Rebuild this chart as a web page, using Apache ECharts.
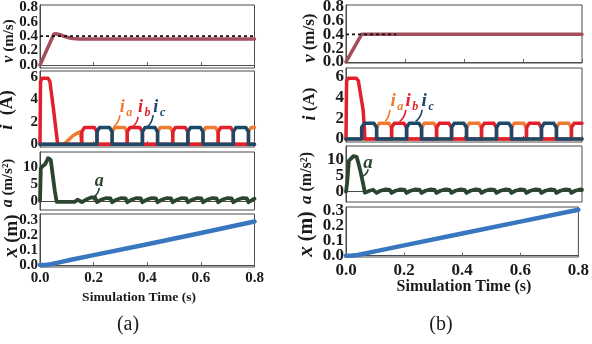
<!DOCTYPE html>
<html>
<head>
<meta charset="utf-8">
<script src="https://cdn.jsdelivr.net/npm/echarts@6/dist/echarts.min.js"></script>
<style>
  html, body { margin: 0; padding: 0; background: #ffffff; }
  #c { width: 592px; height: 344px; }
</style>
</head>
<body>
<div id="c"></div>
<script>
// ---------- (a) speed-loop run: [time (s), value] ----------
const velA = [[0,0],[0.005,0],[0.052,0.43],[0.062,0.432],[0.075,0.42],[0.09,0.398],[0.105,0.38],[0.12,0.368],[0.14,0.362],[0.8,0.362]];
const refA = [[0,0.4],[0.8,0.4]];
const iaA = [[0,0],[0.09,0],[0.105,0.35],[0.12,0.7],[0.135,0.95],[0.15,1.1],[0.156,1.15],[0.156,0],
  [0.269,0],[0.269,1.1],[0.279,1.5],[0.3155,1.5],[0.3255,1.1],[0.3255,0],
  [0.4385,0],[0.4385,1.1],[0.4485,1.5],[0.485,1.5],[0.495,1.1],[0.495,0],
  [0.608,0],[0.608,1.1],[0.618,1.5],[0.6545,1.5],[0.6645,1.1],[0.6645,0],
  [0.7775,0],[0.7775,1.1],[0.7875,1.5],[0.8,1.5]];
const ibA = [[0,0],[0.002,5.6],[0.008,5.9],[0.03,5.9],[0.037,5.6],[0.05,3.2],[0.062,0.8],[0.066,0],
  [0.156,0],[0.156,1.1],[0.166,1.5],[0.2025,1.5],[0.2125,1.1],[0.2125,0],
  [0.3255,0],[0.3255,1.1],[0.3355,1.5],[0.372,1.5],[0.382,1.1],[0.382,0],
  [0.495,0],[0.495,1.1],[0.505,1.5],[0.5415,1.5],[0.5515,1.1],[0.5515,0],
  [0.6645,0],[0.6645,1.1],[0.6745,1.5],[0.711,1.5],[0.721,1.1],[0.721,0],[0.8,0]];
const icA = [[0,0],[0.2125,0],[0.2125,1.1],[0.2225,1.5],[0.259,1.5],[0.269,1.1],[0.269,0],
  [0.382,0],[0.382,1.1],[0.392,1.5],[0.4285,1.5],[0.4385,1.1],[0.4385,0],
  [0.5515,0],[0.5515,1.1],[0.5615,1.5],[0.598,1.5],[0.608,1.1],[0.608,0],
  [0.721,0],[0.721,1.1],[0.731,1.5],[0.7675,1.5],[0.7775,1.1],[0.7775,0],[0.8,0]];
const accA = [[0,0],[0.003,9.5],[0.01,10.2],[0.018,10.6],[0.025,11.6],[0.03,12.5],[0.035,12.8],[0.04,12],[0.045,9],[0.055,3],[0.062,-0.3],
  [0.13,-0.3],[0.14,0.3],[0.148,0],[0.156,-0.4],
  [0.171,0.3],[0.191,1.0],[0.206,0.9],[0.2125,-0.4],
  [0.2275,0.3],[0.2475,0.8],[0.2625,0.7],[0.269,-0.4],
  [0.284,0.3],[0.304,0.8],[0.319,0.7],[0.3255,-0.4],
  [0.3405,0.3],[0.3605,0.8],[0.3755,0.7],[0.382,-0.4],
  [0.397,0.3],[0.417,0.8],[0.432,0.7],[0.4385,-0.4],
  [0.4535,0.3],[0.4735,0.8],[0.4885,0.7],[0.495,-0.4],
  [0.51,0.3],[0.53,0.8],[0.545,0.7],[0.5515,-0.4],
  [0.5665,0.3],[0.5865,0.8],[0.6015,0.7],[0.608,-0.4],
  [0.623,0.3],[0.643,0.8],[0.658,0.7],[0.6645,-0.4],
  [0.6795,0.3],[0.6995,0.8],[0.7145,0.7],[0.721,-0.4],
  [0.736,0.3],[0.756,0.8],[0.771,0.7],[0.7775,-0.4],
  [0.7925,0.3],[0.8,0.6]];
const posA = [[0,0],[0.02,0.001],[0.04,0.005],[0.055,0.011],[0.08,0.021],[0.12,0.037],[0.2,0.066],[0.4,0.139],[0.6,0.213],[0.8,0.29]];

// ---------- (b) run ----------
const velB = [[0,0],[0.003,0],[0.053,0.4],[0.8,0.4]];
const refB = [[0,0.4],[0.17,0.4]];
const iaB = [[0,0],[0.1038,0],[0.1038,1.1],[0.1128,1.5],[0.1456,1.5],[0.1546,1.1],[0.1546,0],
  [0.2562,0],[0.2562,1.1],[0.2652,1.5],[0.298,1.5],[0.307,1.1],[0.307,0],
  [0.4086,0],[0.4086,1.1],[0.4176,1.5],[0.4504,1.5],[0.4594,1.1],[0.4594,0],
  [0.561,0],[0.561,1.1],[0.57,1.5],[0.6028,1.5],[0.6118,1.1],[0.6118,0],
  [0.7134,0],[0.7134,1.1],[0.7224,1.5],[0.7552,1.5],[0.7642,1.1],[0.7642,0],[0.8,0]];
const ibB = [[0,0],[0.002,5.6],[0.008,5.85],[0.035,5.85],[0.042,5.6],[0.058,2.8],[0.062,1.2],[0.064,0],
  [0.1546,0],[0.1546,1.1],[0.1636,1.5],[0.1964,1.5],[0.2054,1.1],[0.2054,0],
  [0.307,0],[0.307,1.1],[0.316,1.5],[0.3488,1.5],[0.3578,1.1],[0.3578,0],
  [0.4594,0],[0.4594,1.1],[0.4684,1.5],[0.5012,1.5],[0.5102,1.1],[0.5102,0],
  [0.6118,0],[0.6118,1.1],[0.6208,1.5],[0.6536,1.5],[0.6626,1.1],[0.6626,0],
  [0.7642,0],[0.7642,1.1],[0.7732,1.5],[0.8,1.5]];
const icB = [[0,0],[0.053,0],[0.053,1.1],[0.062,1.5],[0.0948,1.5],[0.1038,1.1],[0.1038,0],
  [0.2054,0],[0.2054,1.1],[0.2144,1.5],[0.2472,1.5],[0.2562,1.1],[0.2562,0],
  [0.3578,0],[0.3578,1.1],[0.3668,1.5],[0.3996,1.5],[0.4086,1.1],[0.4086,0],
  [0.5102,0],[0.5102,1.1],[0.5192,1.5],[0.552,1.5],[0.561,1.1],[0.561,0],
  [0.6626,0],[0.6626,1.1],[0.6716,1.5],[0.7044,1.5],[0.7134,1.1],[0.7134,0],[0.8,0]];
const accB = [[0,0],[0.004,3],[0.01,9.8],[0.018,10.5],[0.025,11.2],[0.03,11.6],[0.036,11.0],[0.042,9],[0.05,6],[0.058,2.5],[0.064,-0.3],
  [0.08,0.3],[0.092,0.6],[0.1038,-0.4],
  [0.1168,0.3],[0.1348,0.7],[0.1478,0.6],[0.1546,-0.4],
  [0.1676,0.3],[0.1856,0.7],[0.1986,0.6],[0.2054,-0.4],
  [0.2184,0.3],[0.2364,0.7],[0.2494,0.6],[0.2562,-0.4],
  [0.2692,0.3],[0.2872,0.7],[0.3002,0.6],[0.307,-0.4],
  [0.32,0.3],[0.338,0.7],[0.351,0.6],[0.3578,-0.4],
  [0.3708,0.3],[0.3888,0.7],[0.4018,0.6],[0.4086,-0.4],
  [0.4216,0.3],[0.4396,0.7],[0.4526,0.6],[0.4594,-0.4],
  [0.4724,0.3],[0.4904,0.7],[0.5034,0.6],[0.5102,-0.4],
  [0.5232,0.3],[0.5412,0.7],[0.5542,0.6],[0.561,-0.4],
  [0.574,0.3],[0.592,0.7],[0.605,0.6],[0.6118,-0.4],
  [0.6248,0.3],[0.6428,0.7],[0.6558,0.6],[0.6626,-0.4],
  [0.6756,0.3],[0.6936,0.7],[0.7066,0.6],[0.7134,-0.4],
  [0.7264,0.3],[0.7444,0.7],[0.7574,0.6],[0.7642,-0.4],
  [0.7772,0.3],[0.7952,0.7],[0.8,0.6]];
const posB = [[0,0],[0.02,0.001],[0.04,0.005],[0.053,0.01],[0.1,0.029],[0.2,0.069],[0.4,0.149],[0.6,0.229],[0.8,0.309]];

// tick labels
const timeTicks = [0, 0.2, 0.4, 0.6, 0.8];
const velTicks = [0, 0.2, 0.4, 0.6, 0.8];
const curTicks = [0, 2, 4, 6];
const accTicks = [0, 5, 10];
const posTicks = [0, 0.1, 0.2, 0.3];

const SERIF = "'Liberation Serif', 'Times New Roman', serif";
const INK = '#1a1a1a';
const C = { vel: '#a34f5b', ref: '#111111', ia: '#ee7b30', ib: '#e2202d', ic: '#1d4868', acc: '#2a4630', pos: '#3877c0' };

// panel frames: [left, top, width, height]
const frames = [
  [40, 5, 214.5, 63], [40, 71, 214.5, 76], [40, 152, 214.5, 58], [40, 214, 214.5, 53],
  [346, 5, 236, 58], [346, 68, 236, 74], [346, 146, 236, 56], [346, 207, 236, 50]
];
const yRanges = [
  [-0.042, 0.832], [-0.25, 6.55], [-2.7, 14.3], [-0.013, 0.34],
  [-0.015, 0.825], [-0.3, 6.85], [-3.25, 14.4], [-0.009, 0.327]
];
const yTicks = [velTicks, curTicks, accTicks, posTicks, velTicks, curTicks, accTicks, posTicks];
const yFmt = [1, 0, 0, 1, 1, 0, 0, 1];
const labelSize = [15, 15, 15, 15, 17, 17, 17, 17];

const grid = frames.map(f => ({ left: f[0], top: f[1], width: f[2], height: f[3], show: true, borderColor: '#4a4a4a', borderWidth: 1, backgroundColor: 'transparent' }));

const xAxis = frames.map((f, k) => ({
  type: 'value', gridIndex: k, min: 0, max: 0.8, interval: 0.2,
  axisLine: { show: true, lineStyle: { color: '#4a4a4a', width: 1 } },
  axisTick: { show: true, inside: true, length: 3, lineStyle: { color: '#666' } },
  splitLine: { show: false },
  axisLabel: {
    show: k === 3 || k === 7, margin: k === 3 ? 4 : 5,
    showMinLabel: true, showMaxLabel: true,
    fontFamily: SERIF, fontWeight: 'bold', fontSize: labelSize[k], color: INK,
    formatter: v => v.toFixed(1)
  }
}));

// y tick labels are set as text further below, at the pixel of each tick value
const yAxis = frames.map((f, k) => ({
  type: 'value', gridIndex: k, min: yRanges[k][0], max: yRanges[k][1],
  axisLine: { show: true, lineStyle: { color: '#4a4a4a', width: 1 } },
  axisTick: { show: false },
  splitLine: { show: false },
  axisLabel: { show: false }
}));

function line(data, k, color, width, z, dashed) {
  return {
    type: 'line', data, xAxisIndex: k, yAxisIndex: k, showSymbol: false, symbol: 'none',
    silent: true, z: z, clip: true,
    lineStyle: { color, width, type: dashed ? [3, 3] : 'solid', cap: dashed ? 'butt' : 'round', join: 'round' }
  };
}

const series = [
  line(velA, 0, C.vel, 3.5, 2), line(refA, 0, C.ref, 1.6, 3, true),
  line(iaA, 1, C.ia, 3.5, 2), line(ibA, 1, C.ib, 3.5, 3), line(icA, 1, C.ic, 3.5, 4),
  line(accA, 2, C.acc, 3.8, 2),
  line(posA, 3, C.pos, 4.5, 2),
  line(velB, 4, C.vel, 3.5, 2), line(refB, 4, C.ref, 1.6, 3, true),
  line(iaB, 5, C.ia, 3.5, 2), line(ibB, 5, C.ib, 3.5, 3), line(icB, 5, C.ic, 3.5, 4),
  line(accB, 6, C.acc, 3.8, 2),
  line(posB, 7, C.pos, 4.5, 2)
];

const chart = echarts.init(document.getElementById('c'), null, { renderer: 'canvas', width: 592, height: 344 });
chart.setOption({ animation: false, backgroundColor: '#ffffff', grid, xAxis, yAxis, series, graphic: [] });

// ---------- text: tick labels, axis names, titles, panel tags, curve annotations ----------
function txt(x, y, text, size, opts) {
  opts = opts || {};
  return {
    type: 'text', x, y, rotation: opts.rot || 0, silent: true, z: 50,
    style: {
      text, rich: opts.rich, fill: opts.fill || INK,
      fontFamily: SERIF, fontSize: size, fontWeight: opts.weight || 'bold', fontStyle: opts.style || 'normal',
      align: opts.align || 'center', verticalAlign: opts.valign || 'middle',
      textAlign: opts.align || 'center', textVerticalAlign: opts.valign || 'middle'
    }
  };
}
function yName(x, y, v, unit, size) {
  return txt(x, y, '{v|' + v + '}' + unit, size, {
    rot: Math.PI / 2,
    rich: { v: { fontFamily: SERIF, fontSize: size + 1, fontWeight: 'bold', fontStyle: 'italic', fill: INK } }
  });
}

const g = [];

// y tick labels
frames.forEach((f, k) => {
  yTicks[k].forEach(v => {
    const p = chart.convertToPixel({ gridIndex: k }, [0, v]);
    const s = yFmt[k] ? v.toFixed(1) : String(v);
    g.push(txt(f[0] - 2, p[1], s, labelSize[k], { align: 'right' }));
  });
});

g.push(yName(9, 41, 'v', ' (m/s)', 15));
g.push(yName(7, 110, 'i', '  (A)', 18));
g.push(yName(8, 183, 'a', ' (m/s²)', 15));
g.push(yName(12, 236, 'x', ' (m)', 19));
g.push(yName(310, 38, 'v', ' (m/s)', 17));
g.push(yName(310, 104, 'i', ' (A)', 17));
g.push(yName(307, 178, 'a', ' (m/s²)', 16));
g.push(yName(307, 234, 'x', ' (m)', 20));

g.push(txt(139, 298, 'Simulation Time (s)', 13.5));
g.push(txt(464, 287, 'Simulation Time (s)', 16));
g.push(txt(128, 325, '(a)', 20, { weight: 'normal' }));
g.push(txt(441, 325, '(b)', 20, { weight: 'normal' }));

// curve tags anchored in data space: [gridIndex, label point, pointer start, pointer end, main, sub, color]
const tags = [
  [1, [0.318, 3.3], [0.298, 2.6], [0.276, 1.6], 'i', 'a', C.ia],
  [1, [0.386, 3.3], [0.366, 2.45], [0.346, 1.6], 'i', 'b', C.ib],
  [1, [0.443, 3.3], [0.422, 2.6], [0.402, 1.6], 'i', 'c', C.ic],
  [2, [0.232, 5.8], [0.221, 3.75], [0.2, 1.1], 'a', '', C.acc],
  [5, [0.17, 3.7], [0.149, 2.8], [0.133, 1.7], 'i', 'a', C.ia],
  [5, [0.221, 3.7], [0.203, 2.8], [0.182, 1.7], 'i', 'b', C.ib],
  [5, [0.275, 3.7], [0.258, 2.8], [0.236, 1.7], 'i', 'c', C.ic],
  [6, [0.085, 9.0], [0.075, 7.1], [0.056, 4.9], 'a', '', C.acc]
];
tags.forEach(t => {
  const p = chart.convertToPixel({ gridIndex: t[0] }, t[1]);
  const a = chart.convertToPixel({ gridIndex: t[0] }, t[2]);
  const b = chart.convertToPixel({ gridIndex: t[0] }, t[3]);
  const big = t[0] >= 4 ? 19 : 18;
  g.push(txt(p[0] - 3, p[1], t[4], big, { style: 'italic', fill: t[6] }));
  if (t[5]) g.push(txt(p[0] + 4, p[1] + 6, t[5], 12, { style: 'italic', fill: t[6] }));
  g.push({
    type: 'bezierCurve', silent: true, z: 49,
    shape: { x1: a[0], y1: a[1], x2: b[0], y2: b[1], cpx1: a[0] - 1, cpy1: (a[1] + b[1]) / 2 + 2 },
    style: { stroke: t[6], lineWidth: 1.6, fill: null }
  });
});

chart.setOption({ graphic: g });
</script>
</body>
</html>
